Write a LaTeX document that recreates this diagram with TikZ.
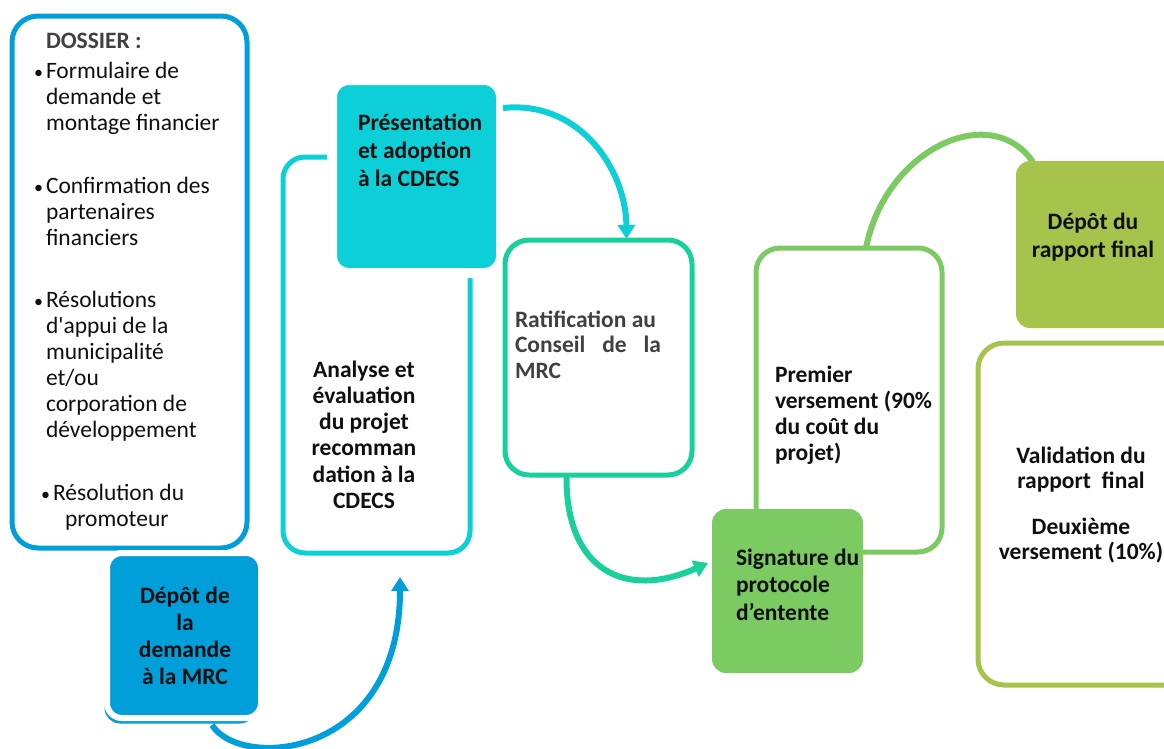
\documentclass[tikz,border=0pt]{standalone}
\usepackage{fontspec}
\setmainfont{Carlito}[Ligatures=TeXOff]
\usetikzlibrary{arrows.meta,calc}
\pgfdeclarelayer{bg}
\pgfsetlayers{bg,main}
\definecolor{cBlue}{RGB}{0,159,218}
\definecolor{cCyan}{RGB}{13,207,216}
\definecolor{cTeal}{RGB}{25,207,155}
\definecolor{cGreen}{RGB}{124,202,98}
\definecolor{cOlive}{RGB}{166,195,75}
\definecolor{cGray}{RGB}{64,64,64}
\definecolor{cText}{RGB}{15,15,15}
\begin{document}
\begin{tikzpicture}[x=1pt,y=-1pt,
  box/.style={rectangle,inner sep=0pt,outer sep=0pt,anchor=north west,line width=5pt},
  conn/.style={line width=6pt,-{Triangle[width=17pt,length=14pt]}},
  tx/.style={inner sep=0pt,outer sep=0pt,text=cText,font=\fontsize{23.5}{26}\selectfont},
  txb/.style={tx,font=\fontsize{23.5}{26}\selectfont\bfseries},
  bul/.style={tx,anchor=base west,font=\fontsize{18}{26}\selectfont}]
\useasboundingbox (0,0) rectangle (1164,748);
\clip (0,0) rectangle (1164,748);

% boxes
\node[box,draw=cBlue,rounded corners=26pt,minimum width=235pt,minimum height=532pt] (b1) at (12,16) {};
\draw[cBlue,line width=3pt,rounded corners=14pt] (106,563) rectangle (254,722);
\node[box,fill=cBlue,draw=white,line width=6pt,rounded corners=15pt,minimum width=154pt,minimum height=165pt] (b2) at (107,553) {};
\node[box,draw=cCyan,rounded corners=22pt,minimum width=187pt,minimum height=396pt] (b3) at (283,157) {};
\node[box,fill=cCyan,draw=white,line width=10pt,rounded corners=17pt,minimum width=169pt,minimum height=193pt] (b4) at (332,80) {};
\node[box,draw=cTeal,rounded corners=24pt,minimum width=187pt,minimum height=235pt] (b5) at (505,240) {};
\node[box,draw=cGreen,rounded corners=24pt,minimum width=186pt,minimum height=304pt] (b6) at (756,248) {};
\node[box,draw=cOlive,rounded corners=26pt,minimum width=220pt,minimum height=342pt] (b9) at (978,343) {};
\node[box,fill=cGreen,rounded corners=14pt,minimum width=151pt,minimum height=164pt] (b7) at (712,509) {};
\node[box,fill=cOlive,rounded corners=14pt,minimum width=190pt,minimum height=167pt] (b8) at (1016,161) {};

% connectors
\draw[conn,cBlue] ($(b2.south)+(28,7)$) .. controls (240,770) and (400,760) .. ($(b3.south)+(23.5,24)$);
\draw[conn,cCyan] ($(b4.north east)+(2,28)$) .. controls (580,100) and (626,170) .. ($(b5.north)+(28,-1)$);
\draw[conn,cTeal] ($(b5.south)+(-32,2)$) .. controls (566,570) and (625,600) .. ($(b7.west)+(-4,-28)$);
\begin{pgfonlayer}{bg}
\draw[cGreen,line width=6pt] ($(b6.north)+(17,0)$) .. controls (885,150) and (990,100) .. ($(b8.north west)+(17,1)$);
\end{pgfonlayer}

% texts box 1
\node[txb,text=cGray,anchor=base west] (tdos) at (46,48) {DOSSIER :};
\node[bul] (p1) at (34,78) {•};
\node[tx,anchor=base west,align=flush left,text width=200pt] (t1) at (46,78) {Formulaire de\\demande et\\montage financier};
\node[bul] (p2) at (34,193) {•};
\node[tx,anchor=base west,align=flush left,text width=200pt] (t2) at (46,193) {Confirmation des\\partenaires\\financiers};
\node[bul] (p3) at (34,307) {•};
\node[tx,anchor=base west,align=flush left,text width=200pt] (t3) at (46,307) {Résolutions\\d'appui de la\\municipalité\\et/ou\\corporation de\\développement};
\node[bul] (p4) at (41,500) {•};
\node[tx,anchor=base west,align=flush left,text width=190pt] (t4) at (53,500) {Résolution du\\\hspace*{12pt}promoteur};

% other texts
\node[txb,anchor=base,align=flush center,text width=148pt,font=\fontsize{23.5}{27}\selectfont\bfseries] (t2b) at (185,603) {Dépôt de\\la\\demande\\à la MRC};
\node[txb,anchor=base,align=flush center,text width=180pt,font=\fontsize{23.5}{26.3}\selectfont\bfseries] (t3b) at (364,377) {Analyse et\\évaluation\\du projet\\recomman\\dation à la\\CDECS};
\node[txb,anchor=base west,align=flush left,text width=150pt,font=\fontsize{23.5}{28}\selectfont\bfseries] (t4b) at (358,130) {Présentation\\et adoption\\à la CDECS};
\node[txb,text=cGray,anchor=base west,align=flush left,text width=146pt,font=\fontsize{23.5}{25.5}\selectfont\bfseries] (t5b) at (515,327) {Ratification au\\Conseil\hfill de\hfill la\\MRC};
\node[txb,anchor=base west,align=flush left,text width=170pt] (t6b) at (775,382) {Premier\\versement (90\%\\du coût du\\projet)};
\node[txb,anchor=base west,align=flush left,text width=150pt,font=\fontsize{23.5}{27.5}\selectfont\bfseries] (t7b) at (736,565) {Signature du\\protocole\\d’entente};
\node[txb,anchor=base,align=flush center,text width=180pt,font=\fontsize{23.5}{28}\selectfont\bfseries] (t8b) at (1093,229) {Dépôt du\\rapport final};
\node[txb,anchor=base,align=flush center,text width=200pt,font=\fontsize{23.5}{25.5}\selectfont\bfseries] (t9b) at (1081,463) {Validation du\\rapport\ \ final\hspace*{18pt}\\[20pt]Deuxième\\versement (10\%)};
\end{tikzpicture}
\end{document}
